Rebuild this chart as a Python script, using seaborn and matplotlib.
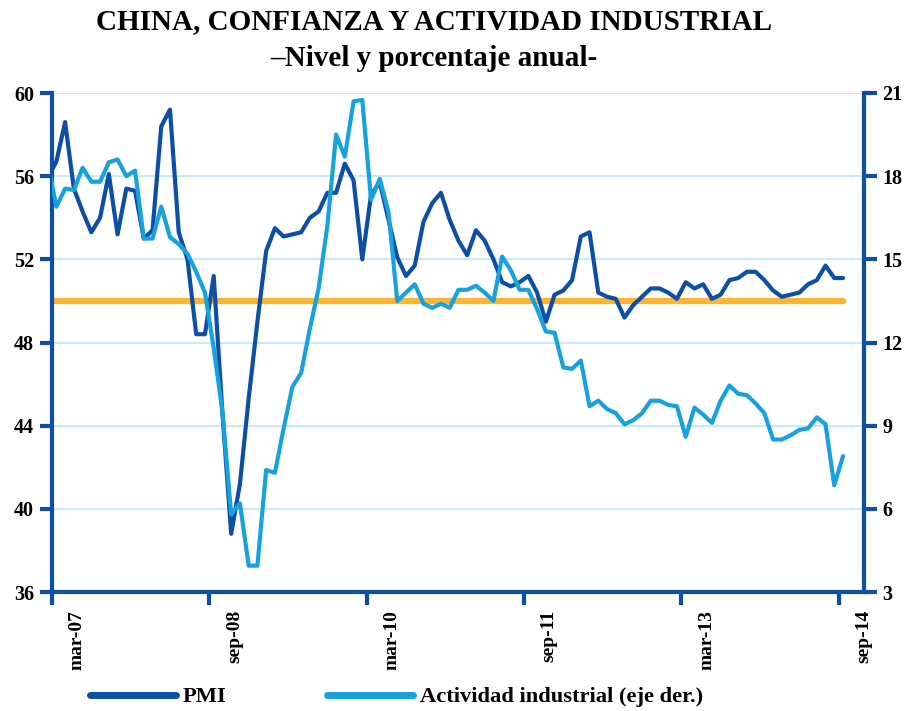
import numpy as np
import pandas as pd
import seaborn as sns
import matplotlib.pyplot as plt
from matplotlib.lines import Line2D

# monthly data, feb-07 .. sep-14
meses = pd.date_range("2007-02-01", "2014-09-01", freq="MS")

pmi = [55.9, 56.7, 58.6, 55.4, 54.3, 53.3, 54.0, 56.1, 53.2, 55.4, 55.3,
       53.0, 53.4, 58.4, 59.2, 53.3, 52.0, 48.4, 48.4, 51.2, 44.6, 38.8, 41.2,
       45.3, 49.0, 52.4, 53.5, 53.1, 53.2, 53.3, 54.0, 54.3, 55.2, 55.2, 56.6,
       55.8, 52.0, 55.1, 55.7, 53.9, 52.1, 51.2, 51.7, 53.8, 54.7, 55.2, 53.9,
       52.9, 52.2, 53.4, 52.9, 52.0, 50.9, 50.7, 50.9, 51.2, 50.4, 49.0, 50.3,
       50.5, 51.0, 53.1, 53.3, 50.4, 50.2, 50.1, 49.2, 49.8, 50.2, 50.6, 50.6,
       50.4, 50.1, 50.9, 50.6, 50.8, 50.1, 50.3, 51.0, 51.1, 51.4, 51.4, 51.0,
       50.5, 50.2, 50.3, 50.4, 50.8, 51.0, 51.7, 51.1, 51.1]

actividad = [18.5, 16.9, 17.55, 17.5, 18.3, 17.8, 17.8, 18.5, 18.6, 18.0, 18.2,
             15.75, 15.75, 16.9, 15.8, 15.55, 15.2, 14.55, 13.8, 11.8, 9.5, 5.8, 6.2,
             3.95, 3.95, 7.4, 7.3, 8.9, 10.4, 10.9, 12.5, 13.95, 16.2, 19.5, 18.7,
             20.7, 20.75, 17.15, 17.9, 16.7, 13.5, 13.8, 14.1, 13.4, 13.25, 13.4, 13.25,
             13.9, 13.9, 14.05, 13.8, 13.5, 15.1, 14.6, 13.9, 13.9, 13.2, 12.4, 12.35,
             11.1, 11.05, 11.35, 9.7, 9.9, 9.6, 9.45, 9.05, 9.2, 9.45, 9.9, 9.9,
             9.75, 9.7, 8.6, 9.65, 9.4, 9.1, 9.9, 10.45, 10.15, 10.1, 9.8, 9.45,
             8.5, 8.5, 8.65, 8.85, 8.9, 9.3, 9.05, 6.85, 7.9]

umbral = 50
etiquetas = ["mar-07", "sep-08", "mar-10", "sep-11", "mar-13", "sep-14"]

df = pd.DataFrame({"fecha": meses, "pmi": pmi, "actividad": actividad})
# months counted from mar-07
df["t"] = (df["fecha"].dt.year - 2007) * 12 + df["fecha"].dt.month - 3
df["umbral"] = umbral

sns.set_theme(style="white")
plt.rcParams["font.family"] = ["Liberation Serif", "DejaVu Serif"]
plt.rcParams["font.weight"] = "bold"
plt.rcParams["text.color"] = "black"

azul = "#0d4ea6"
celeste = "#17a2de"
naranja = "#fbb532"
rejilla = "#bfe7f8"

fig, ax = plt.subplots(figsize=(9.1, 7.11), dpi=100)
fig.subplots_adjust(left=52/910, right=864/910, bottom=1-592/711, top=1-93/711)
ax2 = ax.twinx()

sns.lineplot(data=df, x="t", y="umbral", ax=ax, color=naranja, linewidth=4.5)
sns.lineplot(data=df, x="t", y="pmi", ax=ax, color=azul, linewidth=3)
sns.lineplot(data=df, x="t", y="actividad", ax=ax2, color=celeste, linewidth=3)

ax.set_ylim(36, 60)
ax.set_yticks(np.arange(36, 61, 4))
ax2.set_ylim(3, 21)
ax2.set_yticks(np.arange(3, 22, 3))
ax.set_xlim(-0.5, 92)

pos = np.arange(len(etiquetas)) * 18 - 0.5
ax.set_xticks(pos)
ax.set_xticklabels([])
ax.set_xticks(pos + 2.9, minor=True)
ax.set_xticklabels(etiquetas, minor=True, rotation=90, fontsize=14, fontweight="bold")

for a in (ax, ax2):
    a.set_xlabel("")
    a.set_ylabel("")
    a.spines["top"].set_visible(False)

ax.spines["right"].set_visible(False)
ax2.spines["left"].set_visible(False)
ax2.spines["bottom"].set_visible(False)
for s in (ax.spines["left"], ax.spines["bottom"], ax2.spines["right"]):
    s.set_color(azul)
    s.set_linewidth(3)

ax.yaxis.grid(True, color=rejilla, linewidth=1.2)
ax.set_axisbelow(True)

ax.tick_params(axis="y", direction="out", length=9, width=3, color=azul,
               labelsize=14.5, pad=4, left=True, labelcolor="black")
ax.tick_params(axis="x", which="major", direction="out", length=9, width=3,
               color=azul, bottom=True)
ax.tick_params(axis="x", which="minor", length=0, pad=13, labelsize=14,
               labelcolor="black")
ax2.tick_params(axis="y", direction="out", length=9, width=3, color=azul,
                labelsize=14.5, pad=4, right=True, labelcolor="black")
for lab in ax.get_yticklabels() + ax2.get_yticklabels():
    lab.set_fontweight("bold")

fig.text(0.477, 0.969, "CHINA, CONFIANZA Y ACTIVIDAD INDUSTRIAL",
         ha="center", va="center", fontsize=21, fontweight="bold", color="black")
fig.text(0.477, 0.918, "\u2013Nivel y porcentaje anual-",
         ha="center", va="center", fontsize=21, fontweight="bold", color="black")

handles = [Line2D([], [], color=azul, linewidth=5),
           Line2D([], [], color=celeste, linewidth=5)]
fig.legend(handles, ["PMI", "Actividad industrial (eje der.)"],
           loc="center left", bbox_to_anchor=(90/910, 1-697/711), ncol=2,
           frameon=False, fontsize=16.2, handlelength=3.8, handletextpad=0.3,
           columnspacing=4.5, borderpad=0, borderaxespad=0, labelcolor="black")

fig.savefig("out.png", dpi=100)
